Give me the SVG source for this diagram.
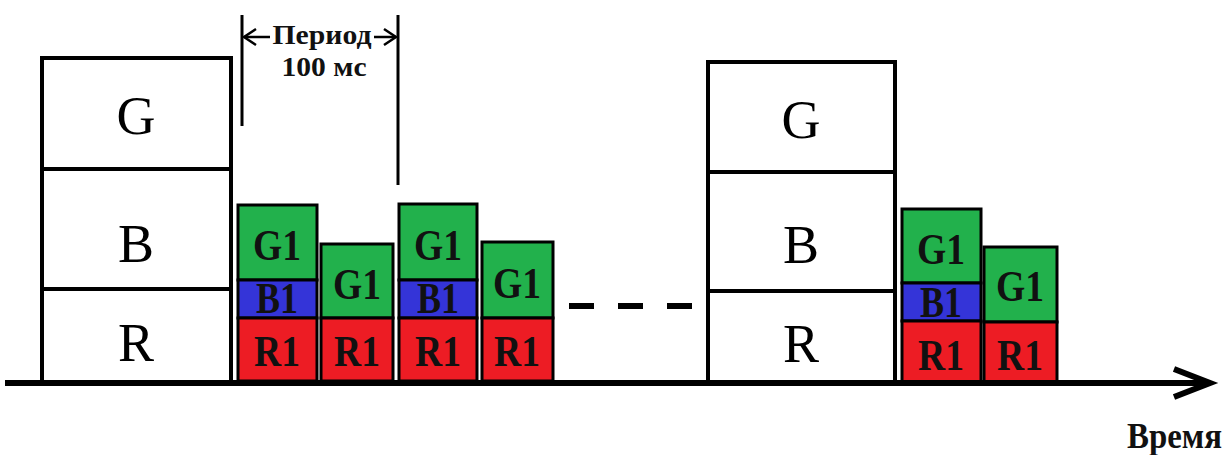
<svg xmlns="http://www.w3.org/2000/svg" width="1230" height="455" viewBox="0 0 1230 455">
<style>
.big{fill:#fff;stroke:#000;stroke-width:4}
.bx{stroke:#000;stroke-width:3}
.g{fill:#22b14c}.b{fill:#3434d8}.r{fill:#ed1c24}
.lt{font-family:"Liberation Serif",serif;font-size:54px;text-anchor:middle;fill:#000}
.st{font-family:"Liberation Serif",serif;font-size:45px;font-weight:bold;text-anchor:middle;fill:#111}
.bt{font-family:"Liberation Serif",serif;font-weight:bold;fill:#111}
.ln{stroke:#000;fill:none}
</style>
<rect width="1230" height="455" fill="#fff"/>
<g id="bigbox1">
<rect class="big" x="42" y="58" width="189" height="325"/>
<line class="ln" stroke-width="4" x1="42" y1="169" x2="231" y2="169"/>
<line class="ln" stroke-width="4" x1="42" y1="289" x2="231" y2="289"/>
<text class="lt" x="136" y="134">G</text>
<text class="lt" x="136" y="262">B</text>
<text class="lt" x="136" y="361">R</text>
</g>
<g id="bigbox2">
<rect class="big" x="708" y="62" width="187" height="321"/>
<line class="ln" stroke-width="4" x1="708" y1="172" x2="895" y2="172"/>
<line class="ln" stroke-width="4" x1="708" y1="291" x2="895" y2="291"/>
<text class="lt" x="801" y="138">G</text>
<text class="lt" x="801" y="263">B</text>
<text class="lt" x="801" y="362">R</text>
</g>
<g id="bar1">
<rect class="bx g" x="238" y="205" width="79" height="75"/>
<rect class="bx b" x="238" y="280" width="79" height="38"/>
<rect class="bx r" x="238" y="318" width="79" height="63"/>
<text class="st" x="277" y="260" textLength="48" lengthAdjust="spacingAndGlyphs">G1</text>
<text class="st" x="277" y="313" textLength="42" lengthAdjust="spacingAndGlyphs">B1</text>
<text class="st" x="277" y="366" textLength="46" lengthAdjust="spacingAndGlyphs">R1</text>
</g>
<g id="bar2">
<rect class="bx g" x="321" y="244" width="72" height="74"/>
<rect class="bx r" x="321" y="318" width="72" height="63"/>
<text class="st" x="357" y="299" textLength="48" lengthAdjust="spacingAndGlyphs">G1</text>
<text class="st" x="357" y="366" textLength="46" lengthAdjust="spacingAndGlyphs">R1</text>
</g>
<g id="bar3">
<rect class="bx g" x="399" y="204" width="78" height="76"/>
<rect class="bx b" x="399" y="280" width="78" height="38"/>
<rect class="bx r" x="399" y="318" width="78" height="63"/>
<text class="st" x="438" y="260" textLength="48" lengthAdjust="spacingAndGlyphs">G1</text>
<text class="st" x="438" y="313" textLength="42" lengthAdjust="spacingAndGlyphs">B1</text>
<text class="st" x="438" y="366" textLength="46" lengthAdjust="spacingAndGlyphs">R1</text>
</g>
<g id="bar4">
<rect class="bx g" x="482" y="242" width="71" height="76"/>
<rect class="bx r" x="482" y="318" width="71" height="63"/>
<text class="st" x="517" y="298" textLength="48" lengthAdjust="spacingAndGlyphs">G1</text>
<text class="st" x="517" y="366" textLength="46" lengthAdjust="spacingAndGlyphs">R1</text>
</g>
<g id="bar5">
<rect class="bx g" x="902" y="209" width="79" height="74"/>
<rect class="bx b" x="902" y="283" width="79" height="38"/>
<rect class="bx r" x="902" y="321" width="79" height="61"/>
<text class="st" x="941" y="264" textLength="48" lengthAdjust="spacingAndGlyphs">G1</text>
<text class="st" x="941" y="317" textLength="42" lengthAdjust="spacingAndGlyphs">B1</text>
<text class="st" x="941" y="370" textLength="46" lengthAdjust="spacingAndGlyphs">R1</text>
</g>
<g id="bar6">
<rect class="bx g" x="984" y="247" width="73" height="75"/>
<rect class="bx r" x="984" y="322" width="73" height="60"/>
<text class="st" x="1020" y="301" textLength="48" lengthAdjust="spacingAndGlyphs">G1</text>
<text class="st" x="1020" y="370" textLength="46" lengthAdjust="spacingAndGlyphs">R1</text>
</g>
<g id="period">
<line class="ln" stroke-width="3" x1="242" y1="15" x2="242" y2="126"/>
<line class="ln" stroke-width="3" x1="398" y1="15" x2="398" y2="185"/>
<line class="ln" stroke-width="2.5" x1="244" y1="37" x2="270" y2="37"/>
<polyline class="ln" stroke-width="2.5" points="256,29 244,37 256,45"/>
<line class="ln" stroke-width="2.5" x1="374" y1="37" x2="396" y2="37"/>
<polyline class="ln" stroke-width="2.5" points="384,29 396,37 384,45"/>
<text class="bt" x="322" y="44" font-size="27" text-anchor="middle" textLength="99" lengthAdjust="spacingAndGlyphs">Период</text>
<text class="bt" x="324" y="76" font-size="27" text-anchor="middle" textLength="85" lengthAdjust="spacingAndGlyphs">100 мс</text>
</g>
<g id="connectors">
<line class="ln" stroke-width="6" x1="5" y1="383" x2="1208" y2="383"/>
<polyline class="ln" stroke-width="6" stroke-linejoin="miter" points="1174,369 1210,383 1174,397"/>
<g stroke="#000" stroke-width="6">
<line x1="569" y1="306" x2="594" y2="306"/>
<line x1="618" y1="306" x2="643" y2="306"/>
<line x1="667" y1="306" x2="692" y2="306"/>
</g>
</g>
<text class="bt" x="1127" y="448" font-size="35" textLength="95" lengthAdjust="spacingAndGlyphs">Время</text>
</svg>
